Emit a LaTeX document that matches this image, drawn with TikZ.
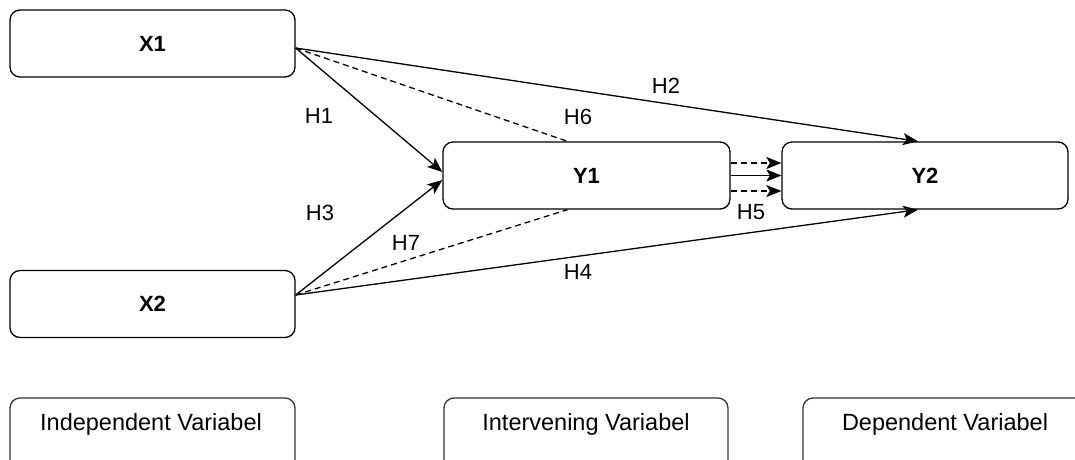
\documentclass[tikz,border=0pt]{standalone}
\usepackage{fontspec}
\setmainfont{Liberation Sans}
\usetikzlibrary{arrows.meta,calc}
\begin{document}
\begin{tikzpicture}[x=1pt,y=-1pt,
  box/.style={draw=black, line width=1.3pt, rounded corners=10pt, minimum width=285pt, minimum height=67pt, inner sep=0pt, font=\fontsize{22}{26}\selectfont\bfseries},
  legbox/.style={draw=black!80, line width=1.3pt, rounded corners=10pt, minimum width=285pt, minimum height=80pt, inner sep=0pt},
  lbl/.style={font=\fontsize{22}{26}\selectfont, inner sep=0pt},
  legend/.style={font=\fontsize{23.5}{26}\selectfont, inner sep=0pt},
  conn/.style={line width=1.3pt, -{Stealth[length=15pt,width=12pt,inset=3.5pt]}},
  dconn/.style={line width=1.3pt, dash pattern=on 6pt off 4pt},
]
\useasboundingbox (0,0) rectangle (1075,459);
\clip (0,0) rectangle (1075,459);
% main boxes
\node[box] (X1) at (152.5,43.5) {X1};
\node[box] (X2) at (152.5,304) {X2};
\node[box, minimum width=287pt] (Y1) at (586.5,175.5) {Y1};
\node[box, minimum width=286pt] (Y2) at (925,175.5) {Y2};
% legend boxes
\node[legbox] (B1) at (152.5,438) {};
\node[legbox, minimum width=284pt] (B2) at (586,438) {};
\node[legbox] (B3) at (945.5,438) {};
\node[legend] (T1) at (151,424) {Independent Variabel};
\node[legend] (T2) at (586,424) {Intervening Variabel};
\node[legend] (T3) at (945,424) {Dependent Variabel};
% anchor points
\coordinate (x1o) at ($(X1.east)+(0,4.5)$);
\coordinate (x2o) at ($(X2.east)+(0,-9)$);
\coordinate (y2t) at ($(Y2.north)+(-7,0)$);
\coordinate (y2b) at ($(Y2.south)+(-7,0)$);
\coordinate (y1t) at ($(Y1.north)+(-19,0)$);
\coordinate (y1b) at ($(Y1.south)+(-19,0)$);
% connectors
\draw[conn] (x1o) -- (y2t);
\draw[conn] (x1o) -- ($(Y1.west)+(0,-3.5)$);
\draw[dconn] (x1o) -- (y1t);
\draw[conn] (x2o) -- ($(Y1.west)+(0,4.5)$);
\draw[dconn] (x2o) -- (y1b);
\draw[conn] (x2o) -- (y2b);
\draw[conn, dconn] ($(Y1.east)+(0,-12.5)$) -- ($(Y2.west)+(0,-12.5)$);
\draw[conn] ($(Y1.east)+(0,0)$) -- ($(Y2.west)+(0,0)$);
\draw[conn, dconn] ($(Y1.east)+(0,15.5)$) -- ($(Y2.west)+(0,15.5)$);
% labels
\node[lbl] (H1) at (319,116) {H1};
\node[lbl] (H2) at (666,86) {H2};
\node[lbl] (H3) at (320,213) {H3};
\node[lbl] (H4) at (578,272) {H4};
\node[lbl] (H5) at (751,212) {H5};
\node[lbl] (H6) at (578,117) {H6};
\node[lbl] (H7) at (406,243) {H7};
\end{tikzpicture}
\end{document}
